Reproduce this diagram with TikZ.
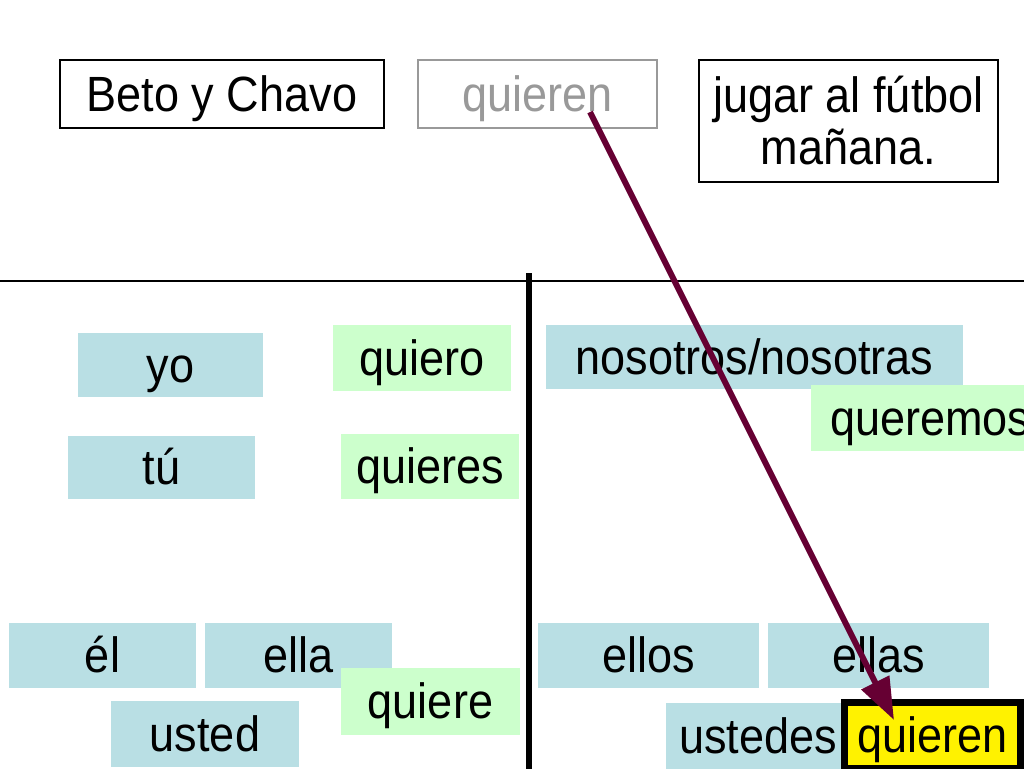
\documentclass[tikz,border=0pt]{standalone}
\usepackage{fontspec}
\setmainfont{Liberation Sans}[FakeStretch=0.91]
\usetikzlibrary{arrows.meta,calc}
\definecolor{pbl}{RGB}{185,223,228}
\definecolor{pgr}{RGB}{204,255,204}
\definecolor{arr}{RGB}{102,0,51}
\definecolor{gtx}{RGB}{153,153,153}
\begin{document}
\begin{tikzpicture}[x=1pt,y=-1pt,
  every node/.style={font=\fontsize{49.5}{52}\selectfont, inner sep=0pt, outer sep=0pt, anchor=north west},
  lbl/.style={text height=44.8pt, text depth=10.5pt},
  pron/.style={lbl, fill=pbl},
  verb/.style={lbl, fill=pgr},
  topbox/.style={lbl, draw=black, line width=2.5pt, fill=white}]
\useasboundingbox (0,0) rectangle (1024,768);
\clip (0,0) rectangle (1024,768);
% top sentence
\node[topbox, minimum width=324pt, minimum height=68pt] (beto) at (60,60) {Beto y Chavo};
\node[topbox, draw=gtx, text=gtx, minimum width=239pt, minimum height=68pt] (q1) at (418,60) {quieren};
\node[topbox, text height={}, text depth={}, minimum width=299pt, minimum height=122pt, align=center] (jugar) at (699,60) {jugar al fútbol\\mañana.};
% dividers
\draw[line width=1.5pt] (0,281) -- (1024,281);
\draw[line width=6pt] (529,273) -- (529,775);
% singular
\node[pron, minimum width=185pt, minimum height=64pt] (yo) at (78,333) {yo};
\node[verb, minimum width=178pt, minimum height=66pt] (quiero) at (333,325) {quiero};
\node[pron, minimum width=187pt, minimum height=63pt] (tu) at (68,436) {tú};
\node[verb, minimum width=178pt, minimum height=65pt] (quieres) at (341,434) {quieres};
\node[pron, minimum width=187pt, minimum height=65pt] (el) at (9,623) {él};
\node[pron, minimum width=187pt, minimum height=65pt] (ella) at (205,623) {ella};
\node[verb, minimum width=179pt, minimum height=67pt] (quiere) at (341,668) {quiere};
\node[pron, minimum width=188pt, minimum height=66pt] (usted) at (111,701) {usted};
% plural
\node[pron, minimum width=417pt, minimum height=64pt] (nos) at (546,325) {nosotros/nosotras};
\node[verb, inner xsep=19pt, minimum height=66pt] (quer) at (811,385) {queremos};
\node[pron, minimum width=221pt, minimum height=65pt] (ellos) at (538,623) {ellos};
\node[pron, minimum width=221pt, minimum height=65pt] (ellas) at (768,623) {ellas};
\node[pron, minimum width=184pt, minimum height=66pt] (ustedes) at (666,703) {ustedes};
\node[lbl, draw=black, line width=7pt, fill=yellow, minimum width=175.5pt, minimum height=66pt] (qy) at (844.5,702.5) {quieren};
% arrow
\coordinate (as) at ($(q1.north west)+(172,52)$);
\coordinate (ae) at ($(qy.north west)+(49.5,17.5)$);
\draw[arr, line width=6pt, -{Triangle[length=42pt,width=30pt]}] (as) -- (ae);
\end{tikzpicture}
\end{document}
